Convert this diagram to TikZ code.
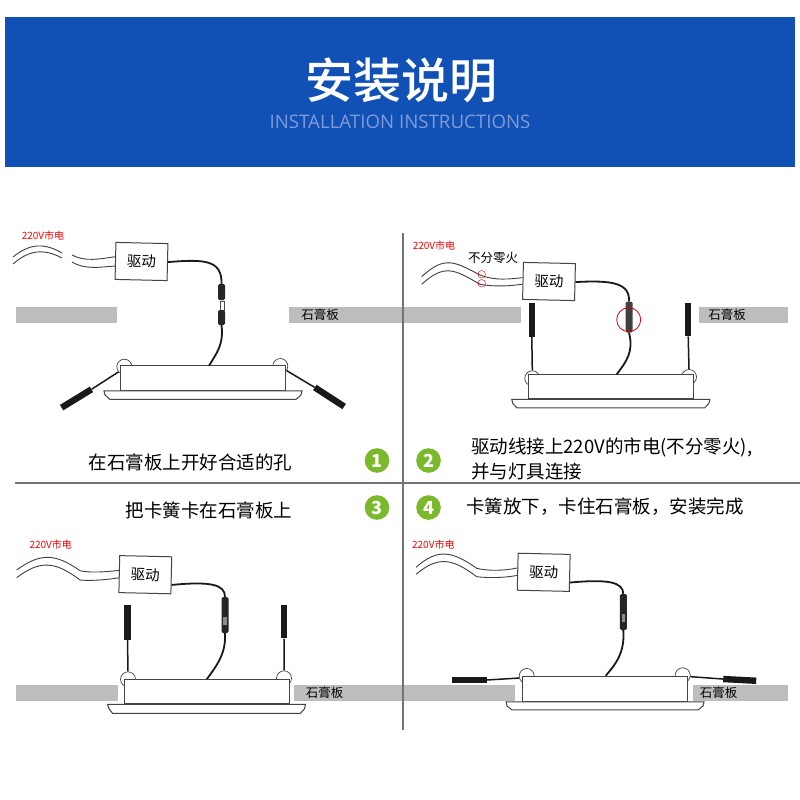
\documentclass[tikz,border=0pt]{standalone}
\usepackage{fontspec}
\setmainfont{Noto Sans CJK SC}
\newfontfamily\titlefont{Noto Sans CJK SC Medium}
\newfontfamily\latinfont{Open Sans}
\usepackage{tikz}
\usetikzlibrary{calc}
\definecolor{headerblue}{HTML}{1150B4}
\definecolor{subtitleblue}{HTML}{7F9CD8}
\definecolor{stepgreen}{HTML}{7AB92C}
\definecolor{boardgray}{HTML}{BDBDBD}
\definecolor{linegray}{HTML}{444444}
\newcommand{\widecomma}{\char"FF0C\relax}
\tikzset{x=1pt, y=-1pt}
\tikzset{
  divider/.style={color=black!55, line width=1.4pt},
  boardstrip/.style={fill=boardgray, draw=none},
  boardlabel/.style={font=\fontsize{12.5}{14}\selectfont, inner sep=0pt},
  redlabel/.style={font=\fontsize{10}{12}\selectfont, text=red, inner sep=0pt},
  caption/.style={font=\fontsize{18.5}{20}\selectfont, inner sep=0pt},
  stepdot/.style={circle, fill=stepgreen, minimum size=24.6pt, inner sep=0pt, text=white,
    font=\fontsize{18}{18}\selectfont\bfseries},
  driverbox/.style={draw=linegray, fill=white, line width=1pt, minimum width=52pt,
    minimum height=37pt, rotate=-1.3, inner sep=0pt, font=\fontsize{14.5}{16}\selectfont},
  mains/.style={draw=black!75, line width=0.9pt},
  feed/.style={draw=black!90, line width=1.8pt},
  plug/.style={fill=black!85, draw=none, rounded corners=1.5pt, minimum width=7pt, inner sep=0pt},
  pin/.style={fill=white, draw=black!70, line width=0.5pt, minimum width=4pt, minimum height=9pt, inner sep=0pt},
  lampbody/.style={draw=linegray, fill=white, line width=1pt, minimum width=165pt,
    minimum height=24.5pt, inner sep=0pt},
  lampflange/.style={draw=linegray, fill=white, line width=1pt},
  clip/.style={circle, draw=linegray, fill=white, line width=0.7pt, minimum size=15pt, inner sep=0pt},
  springtip/.style={fill=black!90, draw=none, minimum width=35pt, minimum height=6.4pt, inner sep=0pt},
  spring/.style={draw=black!90, line width=1.5pt},
  redring/.style={circle, draw=red!85!black, inner sep=0pt},
}
\begin{document}
\begin{tikzpicture}
  \useasboundingbox (0,0) rectangle (800,800);
  \fill[white] (0,0) rectangle (800,800);
  % header
  \fill[headerblue] (5,17) rectangle (795,167);
  \node[text=white, inner sep=0pt, font=\fontsize{48}{50}\titlefont\selectfont] (title) at (401,80) {安装说明};
  \node[text=subtitleblue, inner sep=0pt, font=\fontsize{18.7}{22}\latinfont\selectfont] (subtitle) at (400,122) {INSTALLATION INSTRUCTIONS};
  % gypsum strips
  \fill[boardstrip] (16,306.5) rectangle (117,323);
  \fill[boardstrip] (289,306.5) rectangle (521,323);
  \fill[boardstrip] (699,306.5) rectangle (788,323);
  \fill[boardstrip] (16,684.5) rectangle (117.5,701);
  \fill[boardstrip] (293.5,684.5) rectangle (515,701);
  \fill[boardstrip] (692.5,684.5) rectangle (788,701);
  \node[boardlabel] (boardA) at (320,315) {石膏板};
  \node[boardlabel] (boardB) at (727,315) {石膏板};
  \node[boardlabel] (boardC) at (324.5,693) {石膏板};
  \node[boardlabel] (boardD) at (718.5,693) {石膏板};
  % dividers
  \draw[divider] (403,233) -- (403,730);
  \draw[divider] (15,483) -- (800,483);
  % step 1
  \node[redlabel] (mainsA) at (43,236) {220V市电};
  \node[driverbox] (driverA) at (141.5,261.5) {驱动};
  \coordinate (cutA) at (72,255);
  \coordinate (cutB) at (72,262);
  \draw[mains] (13,257) .. controls (30,243) and (45,243) .. (62,253);
  \draw[mains] (13,264) .. controls (30,249) and (45,249) .. (62,258);
  \draw[mains] (cutA) .. controls (85,262) and (100,259) .. (driverA.171);
  \draw[mains] (cutB) .. controls (85,270) and (100,267) .. (driverA.191);
  \node[plug, minimum height=16pt] (plugA) at (221.5,292) {};
  \node[pin] (pinA) at (222,305.5) {};
  \node[plug, minimum height=15pt] (plugB) at (221.5,317.5) {};
  \draw[feed] (driverA.east) .. controls (205,259) and (222,260) .. (plugA.north);
  \node[clip] (clipA) at (124.3,366.7) {};
  \node[clip] (clipB) at (280.3,366) {};
  \node[lampbody] (lampA) at (203,378.2) {};
  \draw[lampflange] ($(lampA.south)+(-99,0)$) -- ++(198,0) -- ++(-1,4) -- ++(-5,4.5) -- ++(-186,0) -- ++(-5,-4.5) -- cycle;
  \coordinate (entryA) at (209,365.7);
  \draw[feed] (plugB.south) .. controls (224,345) and (216,354) .. (entryA);
  \node[springtip, rotate=31.5] (tipA) at (76.5,398.5) {};
  \node[springtip, rotate=-33] (tipB) at (329.5,397) {};
  \draw[spring] (tipA.east) -- (clipA.222);
  \draw[spring] (tipB.west) -- (clipB.-36);
  % step 2
  \node[redlabel] (mainsB) at (434,245.5) {220V市电};
  \node[inner sep=0pt, font=\fontsize{12.5}{14}\selectfont] (noteB) at (493,258) {不分零火};
  \node[driverbox] (driverB) at (549,281.5) {驱动};
  \coordinate (liveB) at (421.7,276.7);
  \coordinate (zeroB) at (421.7,284.3);
  \draw[mains] (liveB) .. controls (445,255) and (455,262) .. (480,275) .. controls (495,281) and (510,279) .. (driverB.173);
  \draw[mains] (zeroB) .. controls (445,263) and (455,270) .. (480,284.3) .. controls (495,287) and (510,286) .. (driverB.187);
  \node[redring, minimum size=7.6pt] (ringA) at (481.7,274.3) {};
  \node[redring, minimum size=7.6pt] (ringB) at (481.7,283.3) {};
  \node[plug, fill=black!75, minimum height=31pt] (plugC) at (629,317) {};
  \draw[feed] (driverB.east) .. controls (612,280) and (630,283) .. (plugC.north);
  \node[redring, minimum size=24pt, line width=0.8pt] (ringC) at (628.7,319.7) {};
  \node[clip] (clipC) at (532.3,378.3) {};
  \node[clip] (clipD) at (689,377) {};
  \node[lampbody] (lampB) at (610.8,386.7) {};
  \draw[lampflange] ($(lampB.south)+(-99,0)$) -- ++(198,0) -- ++(-1,4) -- ++(-4,4.3) -- ++(-188,0) -- ++(-4,-4.3) -- cycle;
  \coordinate (entryB) at (616.7,374.3);
  \draw[feed] (plugC.south) .. controls (634,352) and (626,362) .. (entryB);
  \node[springtip, rotate=90, minimum width=34pt] (tipC) at (531.8,319.7) {};
  \node[springtip, rotate=90, minimum width=33pt] (tipD) at (688.2,319.8) {};
  \draw[spring] (tipC.west) -- (clipC.north);
  \draw[spring] (tipD.west) -- (clipD.north);
  % step 3
  \node[redlabel] (mainsC) at (50.7,545) {220V市电};
  \node[driverbox] (driverC) at (145.3,574.7) {驱动};
  \coordinate (liveC) at (16.7,570);
  \coordinate (zeroC) at (16.7,577.7);
  \draw[mains] (liveC) .. controls (40,553) and (55,553) .. (80,570.7) .. controls (90,573) and (105,572) .. (driverC.172);
  \draw[mains] (zeroC) .. controls (40,560) and (55,561) .. (80,580) .. controls (90,581) and (105,580) .. (driverC.188);
  \node[plug, minimum height=36pt] (plugD) at (225,615) {};
  \fill[black!45] (223,617) rectangle (226.5,625);
  \draw[feed] (driverC.-20) .. controls (212,581) and (225,585) .. (plugD.north);
  \node[clip] (clipE) at (128,679.3) {};
  \node[clip] (clipF) at (284,678.3) {};
  \node[lampbody] (lampC) at (206.5,691.5) {};
  \draw[lampflange] ($(lampC.south)+(-99,0)$) -- ++(198,0) -- ++(-1,4.5) -- ++(-4,4.5) -- ++(-188,0) -- ++(-3.5,-4.5) -- cycle;
  \coordinate (entryC) at (206.7,679.3);
  \draw[feed] (plugD.south) .. controls (226,653) and (218,664) .. (entryC);
  \node[springtip, rotate=90] (tipE) at (127.5,622) {};
  \node[springtip, rotate=90, minimum width=33pt] (tipF) at (284.2,621.8) {};
  \draw[spring] (tipE.west) -- (clipE.north);
  \draw[spring] (tipF.west) -- (clipF.north);
  % step 4
  \node[redlabel] (mainsD) at (433.3,545) {220V市电};
  \node[driverbox] (driverD) at (543.7,572.3) {驱动};
  \coordinate (liveD) at (416,567.3);
  \coordinate (zeroD) at (416,574.3);
  \draw[mains] (liveD) .. controls (438,548) and (452,551) .. (476.7,568.3) .. controls (488,571) and (503,571) .. (driverD.172);
  \draw[mains] (zeroD) .. controls (438,556) and (452,558) .. (476.7,576.7) .. controls (488,578) and (503,578) .. (driverD.188);
  \node[plug, minimum height=36pt] (plugE) at (623.3,612) {};
  \fill[black!45] (621.5,614) rectangle (625,622);
  \draw[feed] (driverD.-20) .. controls (608,579) and (623,582) .. (plugE.north);
  \node[clip] (clipG) at (526.7,676) {};
  \node[clip] (clipH) at (682.7,675.3) {};
  \node[lampbody] (lampD) at (605,689.2) {};
  \draw[lampflange] ($(lampD.south)+(-99,0)$) -- ++(198,0) -- ++(-1,4) -- ++(-5,4) -- ++(-186,0) -- ++(-5,-4) -- cycle;
  \coordinate (entryD) at (605.7,675.7);
  \draw[feed] (plugE.south) .. controls (625,652) and (616,664) .. (entryD);
  \node[springtip] (tipG) at (469,680) {};
  \node[springtip, rotate=-3, minimum width=33pt] (tipH) at (739.7,679.9) {};
  \draw[spring] (tipG.east) -- (clipG.195);
  \draw[spring] (tipH.west) -- (clipH.-10);
  % captions
  \node[caption] (captionA) at (190.5,462) {在石膏板上开好合适的孔};
  \node[caption, anchor=west] (captionB) at (471,447) {驱动线接上220V的市电(不分零火),};
  \node[caption, anchor=west] (captionC) at (471,472) {并与灯具连接};
  \node[caption] (captionD) at (209,510) {把卡簧卡在石膏板上};
  \node[caption, anchor=west] (captionE) at (466,507) {卡簧放下\widecomma 卡住石膏板\widecomma 安装完成};
  \node[stepdot] (stepA) at (377,460.5) {1};
  \node[stepdot] (stepB) at (428.5,460.5) {2};
  \node[stepdot] (stepC) at (377,507.5) {3};
  \node[stepdot] (stepD) at (428.5,507.5) {4};
\end{tikzpicture}
\end{document}
